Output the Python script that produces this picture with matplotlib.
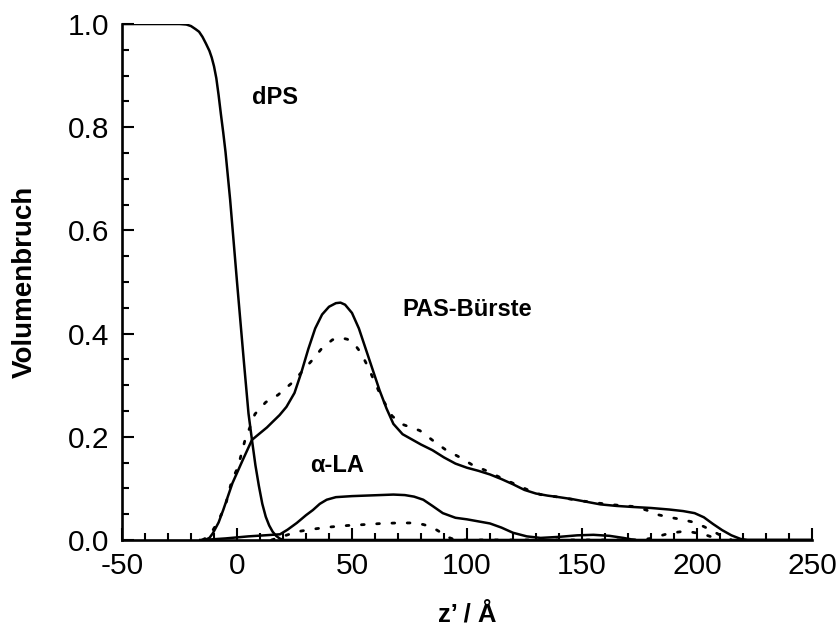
import matplotlib
matplotlib.use("Agg")
from matplotlib import pyplot as plt
from matplotlib.ticker import MultipleLocator

plt.rcParams["font.family"] = ["Liberation Sans", "DejaVu Sans"]
plt.rcParams["axes.unicode_minus"] = False

# dPS volume fraction
dps_z = [-50, -25, -22, -20, -18, -16.5, -15, -13.5, -12, -11, -10, -9, -8, -7, -6,
         -5, -3, 0, 3, 5, 6.5, 8, 9.5, 11, 12.5, 14, 15.5, 17, 18.5, 20, 250]
dps_phi = [1, 1, 0.999, 0.996, 0.99, 0.985, 0.975, 0.962, 0.948, 0.935, 0.918, 0.895,
           0.862, 0.825, 0.79, 0.752, 0.66, 0.50, 0.345, 0.245, 0.194, 0.145, 0.105,
           0.07, 0.045, 0.028, 0.016, 0.008, 0.003, 0, 0]

# PAS brush, solid and dotted
pas_z = [-16, -14, -12, -10.5, -8, -6, -2, 2.5, 6.5, 10, 13, 15.5, 18.5, 21.5, 25, 28,
         31, 34, 37, 40, 43, 45, 47, 50, 53, 56, 59, 62, 65, 68, 72, 76, 80, 85, 90,
         95, 100, 105, 110, 115, 120, 125, 130, 135, 140, 146, 152, 158, 165, 172, 180,
         188, 194, 199, 203, 207, 211, 215, 219, 222, 250]
pas_phi = [0, 0, 0.004, 0.013, 0.034, 0.058, 0.11, 0.155, 0.194, 0.207, 0.218, 0.229,
           0.242, 0.258, 0.285, 0.325, 0.37, 0.41, 0.437, 0.452, 0.459, 0.46, 0.456,
           0.44, 0.41, 0.37, 0.33, 0.29, 0.255, 0.225, 0.205, 0.195, 0.185, 0.174,
           0.16, 0.148, 0.14, 0.134, 0.127, 0.118, 0.108, 0.097, 0.09, 0.086, 0.083,
           0.079, 0.074, 0.069, 0.066, 0.064, 0.062, 0.059, 0.056, 0.052, 0.044, 0.031,
           0.019, 0.009, 0.002, 0, 0]

pas2_z = [-15, -12, -9, -5.2, -2.2, 0.4, 3.5, 7.8, 12.5, 17.8, 24.3, 29, 33, 37, 41.5,
          45, 48, 51, 54, 57, 60, 63, 67.5, 72, 79.5, 86, 91, 97, 102.5, 108, 114, 120,
          126, 132, 140, 148, 156, 164, 172, 178, 183, 188, 193, 198, 203, 207, 211, 215]
pas2_phi = [0, 0.008, 0.03, 0.064, 0.116, 0.141, 0.194, 0.244, 0.267, 0.281, 0.306,
            0.33, 0.35, 0.372, 0.388, 0.392, 0.389, 0.38, 0.362, 0.335, 0.305, 0.275,
            0.24, 0.224, 0.212, 0.19, 0.174, 0.16, 0.145, 0.135, 0.122, 0.11, 0.098,
            0.088, 0.083, 0.077, 0.072, 0.068, 0.065, 0.058, 0.049, 0.044, 0.040,
            0.035, 0.026, 0.017, 0.007, 0]

# alpha-LA, solid and dotted
la_z = [-15, -5, 5, 12, 18.7, 22, 26, 30, 33, 36, 39, 43, 50, 56, 62, 68, 73, 77, 81,
        85, 89.5, 95, 100, 105, 110, 115, 120, 126, 132, 140, 148, 155, 162, 168, 173]
la_phi = [0, 0.003, 0.007, 0.009, 0.011, 0.02, 0.033, 0.048, 0.058, 0.07, 0.078,
          0.083, 0.085, 0.086, 0.087, 0.088, 0.087, 0.084, 0.078, 0.066, 0.052, 0.043,
          0.04, 0.036, 0.032, 0.024, 0.014, 0.007, 0.004, 0.006, 0.009, 0.01, 0.008,
          0.004, 0]

la2_z = [15, 20, 26, 33, 40, 48, 56, 63, 70, 76, 81, 84, 87, 89.5, 92, 95, 175, 180,
         184, 188, 193, 198, 203, 207, 211]
la2_phi = [0, 0.007, 0.016, 0.021, 0.025, 0.028, 0.03, 0.032, 0.033, 0.033, 0.03,
           0.026, 0.019, 0.012, 0.005, 0, 0, 0.003, 0.008, 0.013, 0.016, 0.015, 0.011,
           0.005, 0]

fig = plt.figure(figsize=(8.37, 6.27), dpi=100)
ax = fig.add_axes([0.1458, 0.1388, 0.8242, 0.8229])

solid = dict(color="black", lw=1.8, solid_joinstyle="round")
dotted = dict(color="black", lw=2.0, ls=(0, (1, 4.5)), dash_capstyle="round")

ax.plot(dps_z, dps_phi, **solid)
ax.plot(pas_z, pas_phi, **solid)
ax.plot(pas2_z, pas2_phi, **dotted)
ax.plot(la_z, la_phi, **solid)
ax.plot(la2_z, la2_phi, **dotted)

ax.set_xlim(-50, 250)
ax.set_ylim(0, 1.0)
ax.xaxis.set_major_locator(MultipleLocator(50))
ax.xaxis.set_minor_locator(MultipleLocator(10))
ax.yaxis.set_major_locator(MultipleLocator(0.2))
ax.yaxis.set_minor_locator(MultipleLocator(0.05))
ax.yaxis.set_major_formatter(lambda v, p: "%.1f" % v)

for s in ["top", "right"]:
    ax.spines[s].set_visible(False)
for s in ["left", "bottom"]:
    ax.spines[s].set_linewidth(1.9)

ax.tick_params(which="major", direction="in", length=8.5, width=1.5,
               labelsize=21.5, pad=9)
ax.tick_params(which="minor", direction="in", length=5, width=1.5)

ax.set_xlabel("z\u2019 / \u00c5", fontsize=18.5, fontweight="bold", labelpad=16)
ax.set_ylabel("Volumenbruch", fontsize=20, fontweight="bold", labelpad=22)

ax.text(16.5, 0.858, "dPS", fontsize=17, fontweight="bold", ha="center", va="center")
ax.text(100, 0.446, "PAS-B\u00fcrste", fontsize=17, fontweight="bold",
        ha="center", va="center")
ax.text(43.5, 0.145, "\u03b1-LA", fontsize=17, fontweight="bold",
        ha="center", va="center")

fig.savefig("out.png", dpi=100)
